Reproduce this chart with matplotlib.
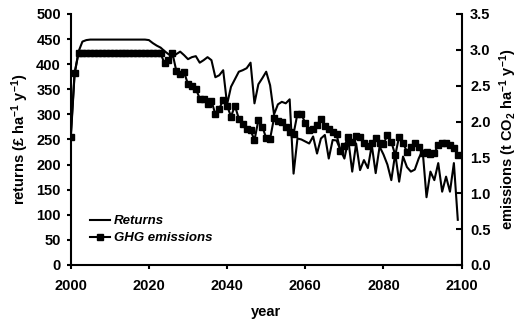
import numpy as np
import matplotlib
matplotlib.use("Agg")
import matplotlib.pyplot as plt

plt.rcParams['font.family'] = ['Liberation Sans', 'DejaVu Sans']
plt.rcParams['font.weight'] = 'bold'
plt.rcParams['mathtext.default'] = 'regular'

years = np.arange(2000, 2100)

# returns (GBP per ha per year)
returns = [250, 380, 425, 445, 448, 449, 449, 449, 449, 449,
           449, 449, 449, 449, 449, 449, 449, 449, 449, 449,
           448, 442, 437, 433, 426, 420, 415, 420, 425, 418,
           410, 414, 416, 403, 408, 414, 408, 374, 378, 388,
           320, 355, 370, 385, 388, 392, 403, 322, 360, 372,
           385, 358, 300, 320, 325, 322, 330, 182, 252, 250,
           246, 242, 256, 222, 252, 259, 212, 249, 248, 229,
           212, 249, 186, 242, 189, 209, 193, 239, 183, 236,
           220, 200, 169, 222, 166, 216, 195, 186, 190, 212,
           229, 135, 186, 169, 203, 146, 176, 146, 203, 90]

# GHG emissions (t CO2 per ha per year)
emissions = [1.79, 2.68, 2.95, 2.95, 2.95, 2.95, 2.95, 2.95, 2.95, 2.95,
             2.95, 2.95, 2.95, 2.95, 2.95, 2.95, 2.95, 2.95, 2.95, 2.95,
             2.95, 2.95, 2.95, 2.95, 2.81, 2.86, 2.96, 2.71, 2.67, 2.69,
             2.52, 2.49, 2.46, 2.32, 2.31, 2.25, 2.29, 2.10, 2.18, 2.30,
             2.22, 2.07, 2.22, 2.04, 1.97, 1.90, 1.88, 1.74, 2.02, 1.93,
             1.77, 1.76, 2.05, 2.01, 2.00, 1.92, 1.85, 1.83, 2.11, 2.10,
             1.98, 1.88, 1.90, 1.95, 2.04, 1.94, 1.90, 1.86, 1.82, 1.59,
             1.66, 1.79, 1.72, 1.80, 1.79, 1.70, 1.66, 1.70, 1.77, 1.70,
             1.69, 1.81, 1.72, 1.53, 1.79, 1.70, 1.58, 1.65, 1.70, 1.64,
             1.56, 1.57, 1.55, 1.56, 1.67, 1.70, 1.70, 1.68, 1.63, 1.53]

left_ticks = np.arange(0, 501, 50)
right_ticks = np.arange(0, 3.51, 0.5)
x_ticks = np.arange(2000, 2101, 20)

fig = plt.figure(figsize=(5.19, 3.23), dpi=100)
ax = fig.add_axes([0.1362, 0.1796, 0.7534, 0.7771])
ax2 = ax.twinx()

l1, = ax.plot(years, returns, color='black', lw=1.5, label='Returns')
l2, = ax2.plot(years, emissions, color='black', lw=1.5, marker='s',
               markersize=5, label='GHG emissions')

ax.set_xlim(2000, 2100)
ax.set_ylim(0, 500)
ax2.set_ylim(0, 3.5)
ax.set_xticks(x_ticks)
ax.set_yticks(left_ticks)
ax2.set_yticks(right_ticks)
ax2.set_yticklabels(['%.1f' % v for v in right_ticks])

for a in (ax, ax2):
    a.spines['top'].set_visible(False)
    for s in a.spines.values():
        s.set_linewidth(1.5)
ax.spines['right'].set_visible(False)
ax2.spines['left'].set_visible(False)
ax2.spines['bottom'].set_visible(False)

ax.tick_params(axis='both', direction='out', length=3, width=1.5,
               labelsize=10.5)
ax.tick_params(axis='y', pad=4)
ax.tick_params(axis='x', pad=7)
ax2.tick_params(axis='y', direction='in', length=4, width=1.5,
                labelsize=10.5, pad=6)

ax.set_xlabel('year', fontsize=10.5, fontweight='bold', labelpad=9)
ax.set_ylabel('returns (£ ha$^{-1}$ y$^{-1}$)', fontsize=10.5,
              fontweight='bold', labelpad=4)
ax2.set_ylabel('emissions (t CO$_2$ ha$^{-1}$ y$^{-1}$)', fontsize=10.5,
               fontweight='bold', labelpad=5)

leg = ax2.legend(handles=[l1, l2], loc='lower left',
                 bbox_to_anchor=(0.02, 0.035), frameon=False,
                 handlelength=1.5, handletextpad=0.3, labelspacing=0.35,
                 prop={'size': 9.5, 'weight': 'bold', 'style': 'italic'})

fig.savefig('out.png', dpi=100)
